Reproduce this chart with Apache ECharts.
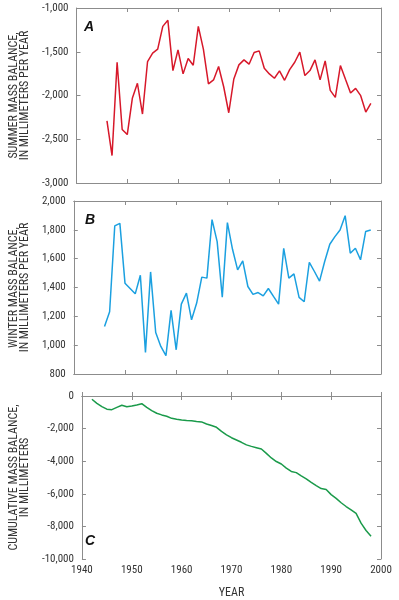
<!DOCTYPE html>
<html>
<head>
<meta charset="utf-8">
<script src="https://cdn.jsdelivr.net/npm/echarts@6/dist/echarts.min.js"></script>
<style>
html,body{margin:0;padding:0;background:#fff;}
#chart{width:399px;height:600px;}
</style>
</head>
<body>
<div id="chart"></div>
<script>
// Panel A & B years
const balanceYears = [1946,1947,1948,1949,1950,1951,1952,1953,1954,1955,1956,1957,1958,1959,1960,1961,1962,1963,1964,1965,1966,1967,1968,1969,1970,1971,1972,1973,1974,1975,1976,1977,1978,1979,1980,1981,1982,1983,1984,1985,1986,1987,1988,1989,1990,1991,1992,1993,1994,1995,1996,1997,1998];
const summerBalance = [-2289,-2686,-1620,-2388,-2446,-2032,-1860,-2212,-1612,-1516,-1470,-1210,-1141,-1715,-1478,-1753,-1577,-1654,-1210,-1470,-1868,-1822,-1669,-1900,-2197,-1811,-1650,-1593,-1642,-1509,-1490,-1688,-1753,-1803,-1719,-1826,-1704,-1620,-1505,-1772,-1715,-1593,-1822,-1604,-1941,-2021,-1658,-1815,-1971,-1918,-2002,-2189,-2090];
const winterBalance = [1130,1232,1827,1845,1430,1393,1356,1485,950,1508,1088,991,927,1241,968,1285,1361,1176,1292,1472,1465,1871,1718,1333,1850,1665,1522,1585,1407,1352,1365,1342,1393,1338,1285,1672,1465,1495,1331,1301,1575,1511,1444,1580,1700,1753,1799,1898,1638,1672,1592,1788,1799];
// Panel C
const cumulativeYears = [1942,1943,1944,1945,1946,1947,1948,1949,1950,1951,1952,1953,1954,1955,1956,1957,1958,1959,1960,1961,1962,1963,1964,1965,1966,1967,1968,1969,1970,1971,1972,1973,1974,1975,1976,1977,1978,1979,1980,1981,1982,1983,1984,1985,1986,1987,1988,1989,1990,1991,1992,1993,1994,1995,1996,1997,1998];
const cumulativeBalance = [-200,-450,-650,-810,-840,-700,-570,-660,-620,-550,-470,-700,-900,-1060,-1160,-1240,-1370,-1430,-1470,-1500,-1520,-1560,-1590,-1720,-1810,-1920,-2170,-2380,-2560,-2700,-2840,-3000,-3090,-3170,-3250,-3520,-3800,-4020,-4170,-4420,-4630,-4700,-4900,-5080,-5300,-5500,-5680,-5740,-6050,-6280,-6550,-6780,-6980,-7200,-7800,-8250,-8600];
const yearTicks = [1940, 2000, 10];
const panelLetters = ['A','B','C'];
const axisNames = [
  'SUMMER MASS BALANCE,\nIN MILLIMETERS PER YEAR',
  'WINTER MASS BALANCE,\nIN MILLIMETERS PER YEAR',
  'CUMULATIVE MASS BALANCE,\nIN MILLIMETERS'
];
const yRanges = [[-3000,-1000,500],[800,2000,200],[-10000,0,2000]];

const FONT = '"Roboto Condensed","Liberation Sans Narrow","DejaVu Sans Condensed",Roboto,sans-serif';
const TXT = '#333';
const LINE = '#8c8c8c';
const fmt = v => Number(v).toLocaleString('en-US');

const grids = [
  {left:71, top:8, width:310, height:175},
  {left:71, top:201, width:310, height:173},
  {left:71, top:396, width:310, height:163}
];

const xAxis = [], yAxis = [];
grids.forEach((g,i)=>{
  const last = i===2;
  xAxis.push({
    type:'value', gridIndex:i, min:yearTicks[0], max:yearTicks[1], interval:yearTicks[2],
    position:'bottom',
    axisLine:{show:true,lineStyle:{color:LINE,width:1}},
    axisTick:{show:true,inside:true,length:4,lineStyle:{color:LINE}},
    axisLabel:{show:last,color:TXT,fontFamily:FONT,fontSize:11,margin:6,formatter:v=>String(v)},
    splitLine:{show:false},
    name:last?'YEAR':'', nameLocation:'middle', nameGap:28,
    nameTextStyle:{color:TXT,fontFamily:FONT,fontSize:12}
  });
  xAxis.push({
    type:'value', gridIndex:i, min:yearTicks[0], max:yearTicks[1], interval:yearTicks[2],
    position:'top',
    axisLine:{show:true,lineStyle:{color:LINE,width:1}},
    axisTick:{show:true,inside:true,length:4,lineStyle:{color:LINE}},
    axisLabel:{show:false}, splitLine:{show:false}
  });
  const r = yRanges[i];
  yAxis.push({
    type:'value', gridIndex:i, min:r[0], max:r[1], interval:r[2], position:'left',
    axisLine:{show:true,lineStyle:{color:LINE,width:1}},
    axisTick:{show:true,inside:true,length:4,lineStyle:{color:LINE}},
    axisLabel:{color:TXT,fontFamily:FONT,fontSize:11,margin:8,formatter:fmt},
    splitLine:{show:false},
    name:axisNames[i], nameLocation:'middle', nameRotate:90, nameGap:41,
    nameTextStyle:{color:TXT,fontFamily:FONT,fontSize:12,lineHeight:11,align:'center'}
  });
  yAxis.push({
    type:'value', gridIndex:i, min:r[0], max:r[1], interval:r[2], position:'right',
    axisLine:{show:true,lineStyle:{color:LINE,width:1}},
    axisTick:{show:true,inside:true,length:4,lineStyle:{color:LINE}},
    axisLabel:{show:false}, splitLine:{show:false}
  });
});

const mk = (xs, ys) => xs.map((x,k)=>[x, ys[k]]);
const colors = ['#d7182a','#1ba0e0','#1a9a4a'];
const seriesData = [mk(balanceYears,summerBalance), mk(balanceYears,winterBalance), mk(cumulativeYears,cumulativeBalance)];
const series = seriesData.map((d,i)=>({
  type:'line', xAxisIndex:i*2, yAxisIndex:i*2, data:d, showSymbol:false, symbol:'none',
  lineStyle:{color:colors[i],width:1.5}, animation:false
}));

const letterPos = [[84,20],[85,213],[85,534]];
const graphic = panelLetters.map((t,i)=>({
  type:'text', left:letterPos[i][0], top:letterPos[i][1],
  style:{text:t, fill:'#111', font:'italic bold 14px Arial, "Liberation Sans", sans-serif'}
}));

const chart = echarts.init(document.getElementById('chart'), null, {renderer:'canvas'});
chart.setOption({
  animation:false, backgroundColor:'#fff',
  grid:grids, xAxis, yAxis, series, graphic
});
</script>
</body>
</html>
